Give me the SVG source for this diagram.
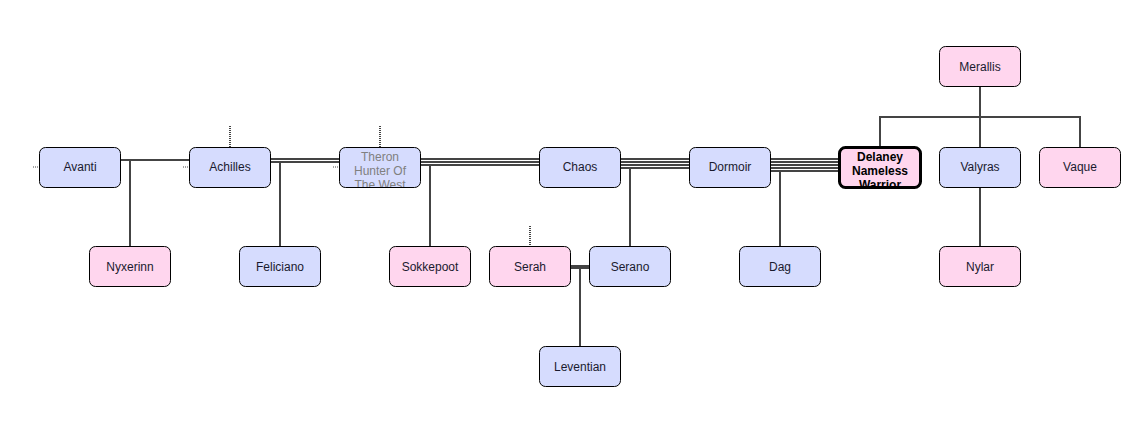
<svg xmlns="http://www.w3.org/2000/svg" width="1133" height="447" viewBox="0 0 1133 447">
<style>
.n rect{stroke:#000;stroke-width:1}
.m rect{fill:#d6dcfe}
.f rect{fill:#ffd6ee}
text{font-family:"Liberation Sans",Arial,sans-serif;font-size:12px;fill:#1a1a2e;text-anchor:middle}
.gray{fill:#808080}
.bold{font-weight:bold;fill:#000}
.c line,.c path{stroke:#444;stroke-width:2;fill:none}
.d{stroke:#444;stroke-width:2;stroke-dasharray:1 1;fill:none}
</style>
<defs>
<clipPath id="cT"><rect x="339" y="147" width="81" height="40"/></clipPath>
<clipPath id="cD"><rect x="839" y="147" width="81" height="39"/></clipPath>
</defs>
<g class="c" id="connectors">
<line x1="120" y1="160" x2="189" y2="160"/>
<line x1="130" y1="160" x2="130" y2="246"/>
<line x1="270" y1="159" x2="339" y2="159"/>
<line x1="270" y1="162" x2="339" y2="162"/>
<line x1="280" y1="162" x2="280" y2="246"/>
<line x1="420" y1="159" x2="539" y2="159"/>
<line x1="420" y1="162" x2="539" y2="162"/>
<line x1="420" y1="165" x2="539" y2="165"/>
<line x1="430" y1="165" x2="430" y2="246"/>
<line x1="620" y1="159" x2="689" y2="159"/>
<line x1="620" y1="162" x2="689" y2="162"/>
<line x1="620" y1="165" x2="689" y2="165"/>
<line x1="620" y1="168" x2="689" y2="168"/>
<line x1="630" y1="168" x2="630" y2="246"/>
<line x1="770" y1="159" x2="839" y2="159"/>
<line x1="770" y1="162" x2="839" y2="162"/>
<line x1="770" y1="165" x2="839" y2="165"/>
<line x1="770" y1="168" x2="839" y2="168"/>
<line x1="770" y1="171" x2="839" y2="171"/>
<line x1="780" y1="171" x2="780" y2="246"/>
<line x1="570" y1="267" x2="589" y2="267" style="stroke-width:4"/>
<line x1="580" y1="267" x2="580" y2="346"/>
<line x1="980" y1="87" x2="980" y2="117"/>
<path d="M880 147V117H1080V147"/>
<line x1="980" y1="117" x2="980" y2="147"/>
<line x1="980" y1="187" x2="980" y2="246"/>
<line class="d" x1="230" y1="126" x2="230" y2="147"/>
<line class="d" x1="380" y1="126" x2="380" y2="147"/>
<line class="d" x1="530" y1="226" x2="530" y2="246"/>
<line class="d" x1="33" y1="167" x2="39" y2="167" style="stroke-width:1"/>
<line class="d" x1="183" y1="167" x2="189" y2="167" style="stroke-width:1"/>
<line class="d" x1="333" y1="167" x2="339" y2="167" style="stroke-width:1"/>
</g>
<g id="avanti" class="n m"><rect x="39.5" y="147.5" width="81" height="40" rx="6"/><text x="80" y="171">Avanti</text></g>
<g id="achilles" class="n m"><rect x="189.5" y="147.5" width="81" height="40" rx="6"/><text x="230" y="171">Achilles</text></g>
<g id="theron" class="n m"><rect x="339.5" y="147.5" width="81" height="40" rx="6"/><g clip-path="url(#cT)"><text class="gray" x="380" y="161">Theron</text><text class="gray" x="380" y="175">Hunter Of</text><text class="gray" x="380" y="189">The West</text></g></g>
<g id="chaos" class="n m"><rect x="539.5" y="147.5" width="81" height="40" rx="6"/><text x="580" y="171">Chaos</text></g>
<g id="dormoir" class="n m"><rect x="689.5" y="147.5" width="81" height="40" rx="6"/><text x="730" y="171">Dormoir</text></g>
<g id="delaney" class="n f"><rect x="839.5" y="147.5" width="81" height="40" rx="6" style="stroke-width:3"/><g clip-path="url(#cD)"><text class="bold" x="880" y="161">Delaney</text><text class="bold" x="880" y="175">Nameless</text><text class="bold" x="880" y="189">Warrior</text></g></g>
<g id="valyras" class="n m"><rect x="939.5" y="147.5" width="81" height="40" rx="6"/><text x="980" y="171">Valyras</text></g>
<g id="vaque" class="n f"><rect x="1039.5" y="147.5" width="81" height="40" rx="6"/><text x="1080" y="171">Vaque</text></g>
<g id="merallis" class="n f"><rect x="939.5" y="46.5" width="81" height="40" rx="6"/><text x="980" y="71">Merallis</text></g>
<g id="nyxerinn" class="n f"><rect x="89.5" y="246.5" width="81" height="40" rx="6"/><text x="130" y="271">Nyxerinn</text></g>
<g id="feliciano" class="n m"><rect x="239.5" y="246.5" width="81" height="40" rx="6"/><text x="280" y="271">Feliciano</text></g>
<g id="sokkepoot" class="n f"><rect x="389.5" y="246.5" width="81" height="40" rx="6"/><text x="430" y="271">Sokkepoot</text></g>
<g id="serah" class="n f"><rect x="489.5" y="246.5" width="81" height="40" rx="6"/><text x="530" y="271">Serah</text></g>
<g id="serano" class="n m"><rect x="589.5" y="246.5" width="81" height="40" rx="6"/><text x="630" y="271">Serano</text></g>
<g id="dag" class="n m"><rect x="739.5" y="246.5" width="81" height="40" rx="6"/><text x="780" y="271">Dag</text></g>
<g id="nylar" class="n f"><rect x="939.5" y="246.5" width="81" height="40" rx="6"/><text x="980" y="271">Nylar</text></g>
<g id="leventian" class="n m"><rect x="539.5" y="346.5" width="81" height="40" rx="6"/><text x="580" y="371">Leventian</text></g>
</svg>
